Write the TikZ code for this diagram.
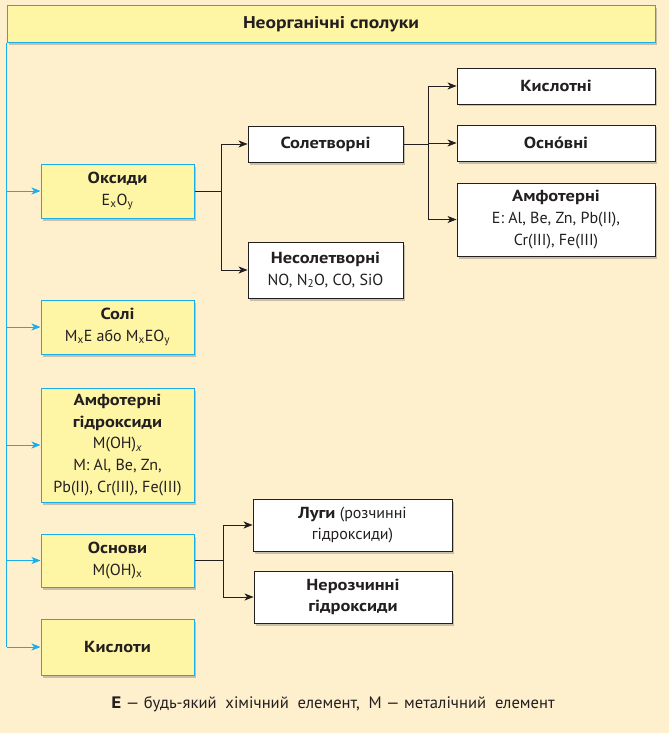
\documentclass[tikz,border=0pt]{standalone}
\usepackage{fontspec}
\setmainfont{PT Sans}[BoldFeatures={FakeStretch=1.15}]
\usetikzlibrary{arrows.meta,shadows}
\definecolor{bg}{HTML}{FEF0CD}
\definecolor{ylw}{HTML}{FFF6A5}
\definecolor{cyn}{HTML}{18AEEA}
\definecolor{ink}{HTML}{231F20}
\tikzset{
  ybox/.style={draw=cyn,line width=1pt,fill=ylw,align=center,inner sep=1pt,text=ink,
    drop shadow={shadow xshift=2pt,shadow yshift=-2.5pt,opacity=0.35,fill=black!60}},
  wbox/.style={draw=ink,line width=0.9pt,fill=white,align=center,inner sep=1pt,text=ink,
    drop shadow={shadow xshift=2pt,shadow yshift=-2.5pt,opacity=0.35,fill=black!60}},
  carr/.style={draw=cyn,line width=0.8pt,-{Stealth[length=9pt,width=7pt,inset=2.5pt]}},
  barr/.style={draw=ink,line width=0.8pt,-{Stealth[length=9pt,width=7pt,inset=2.5pt]}},
  bline/.style={draw=ink,line width=0.8pt},
}
\begin{document}
\begin{tikzpicture}[x=1pt,y=-1pt,font=\fontsize{16}{21.7}\selectfont]
\fill[bg] (0,0) rectangle (669,733);
\useasboundingbox (0,0) rectangle (669,733);
% top
\node[ybox,minimum width=648pt,minimum height=37pt] (top) at (331,24.5) {\fontsize{17}{20}\selectfont\textbf{Неорганічні сполуки}};
% left column
\node[ybox,minimum width=153pt,minimum height=54pt] (oks) at (117.5,191) {\textbf{Оксиди}\\E\textsubscript{x}O\textsubscript{y}};
\node[ybox,minimum width=153pt,minimum height=54pt] (sol) at (117.5,327) {\textbf{Солі}\\M\textsubscript{x}E або M\textsubscript{x}EO\textsubscript{y}};
\node[ybox,minimum width=153pt,minimum height=114pt] (amf) at (117.5,445) {\textbf{Амфотерні}\\\textbf{гідроксиди}\\M(OH)\textsubscript{\itshape x}\\M: Al, Be, Zn,\\Pb(II), Cr(III), Fe(III)};
\node[ybox,minimum width=153pt,minimum height=53pt] (osn) at (117.5,560.5) {\textbf{Основи}\\M(OH)\textsubscript{x}};
\node[ybox,minimum width=153pt,minimum height=56pt] (kys) at (117.5,647) {\textbf{Кислоти}};
% oxides branch
\node[wbox,minimum width=155pt,minimum height=36pt] (solt) at (325.5,144) {\textbf{Солетворні}};
\node[wbox,minimum width=155pt,minimum height=56pt] (nesol) at (325.5,270) {\textbf{Несолетворні}\\NO, N\textsubscript{2}O, CO, SiO};
\node[wbox,minimum width=198pt,minimum height=36pt] (kyslot) at (556,86) {\textbf{Кислотні}};
\node[wbox,minimum width=198pt,minimum height=36pt] (osnovni) at (556,143) {\textbf{Осно\char"0301вні}};
\node[wbox,minimum width=198pt,minimum height=73pt] (amfo) at (556,219.5) {\textbf{Амфотерні}\\E: Al, Be, Zn, Pb(II),\\Cr(III), Fe(III)};
% bases branch
\node[wbox,minimum width=199pt,minimum height=52pt] (lugy) at (352.5,525) {\textbf{Луги} (розчинні\\гідроксиди)};
\node[wbox,minimum width=198pt,minimum height=52pt] (neroz) at (353,597) {\textbf{Нерозчинні}\\\textbf{гідроксиди}};
% footnote
\node[text=ink] (foot) at (333,704) {\fontsize{16.6}{18}\selectfont\textbf{E} — будь-який\ \ хімічний\ \ елемент,\ \ M — металічний\ \ елемент};
% left connectors
\draw[cyn,line width=0.8pt] (top.south west) -- (top.south west |- kys.west);
\foreach \n in {oks,sol,amf,osn,kys} \draw[carr] (top.south west |- \n.west) -- (\n.west);
% oxides connectors
\coordinate (j1) at (221,0);
\draw[bline] (oks.east) -- (j1 |- oks.east);
\draw[barr] (j1 |- solt.west) -- (solt.west);
\draw[barr] (j1 |- solt.west) |- (nesol.west);
\coordinate (j2) at (428,0);
\draw[bline] (solt.east) -- (j2 |- solt.east);
\draw[barr] (j2 |- osnovni.west) -- (osnovni.west);
\draw[barr] (j2 |- solt.east) |- (kyslot.west);
\draw[barr] (j2 |- solt.east) |- (amfo.west);
% bases connectors
\coordinate (j3) at (223,0);
\draw[bline] (osn.east) -- (j3 |- osn.east);
\draw[barr] (j3 |- osn.east) |- (lugy.west);
\draw[barr] (j3 |- osn.east) |- (neroz.west);
\end{tikzpicture}
\end{document}
